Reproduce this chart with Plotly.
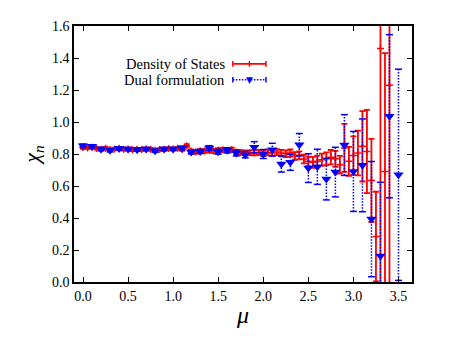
"""
Susceptibility chi_n vs chemical potential mu: Density of States vs Dual formulation.
"""

import plotly.graph_objects as go

# Density of States (red), step 0.05
dos_mu = [round(0.05 * i, 2) for i in range(69)]
dos_chi = [
    0.840, 0.838, 0.842, 0.835, 0.830, 0.836, 0.828, 0.832, 0.836, 0.830,
    0.832, 0.826, 0.830, 0.828, 0.832, 0.830, 0.824, 0.828, 0.830, 0.834,
    0.832, 0.836, 0.828, 0.852, 0.818, 0.812, 0.820, 0.818, 0.822, 0.818,
    0.824, 0.826, 0.824, 0.826, 0.812, 0.810, 0.806, 0.808, 0.808, 0.810,
    0.804, 0.810, 0.806, 0.812, 0.806, 0.802, 0.806, 0.788, 0.792, 0.769,
    0.754, 0.748, 0.754, 0.764, 0.770, 0.780, 0.770, 0.733, 0.838, 0.754,
    0.790, 0.806, 0.848, 0.816, 0.635, 0.284, 1.460, 0.690, 1.230,
]
dos_err = [
    0.008, 0.008, 0.008, 0.008, 0.008, 0.008, 0.008, 0.008, 0.008, 0.008,
    0.008, 0.008, 0.008, 0.008, 0.008, 0.008, 0.008, 0.008, 0.008, 0.008,
    0.008, 0.008, 0.009, 0.009, 0.010, 0.010, 0.010, 0.011, 0.011, 0.012,
    0.012, 0.012, 0.013, 0.013, 0.014, 0.014, 0.015, 0.015, 0.016, 0.016,
    0.017, 0.018, 0.018, 0.019, 0.020, 0.021, 0.022, 0.024, 0.025, 0.027,
    0.030, 0.034, 0.036, 0.038, 0.040, 0.045, 0.050, 0.055, 0.150, 0.090,
    0.120, 0.140, 0.220, 0.260, 0.260, 0.280, 1.800, 0.740, 1.600,
]

# Dual formulation (blue), step 0.1
dual_mu = [round(0.1 * i, 1) for i in range(36)]
dual_chi = [
    0.852, 0.848, 0.831, 0.823, 0.834, 0.831, 0.827, 0.831, 0.820, 0.831,
    0.831, 0.838, 0.812, 0.816, 0.838, 0.814, 0.823, 0.806, 0.796, 0.842,
    0.800, 0.827, 0.737, 0.748, 0.858, 0.712, 0.720, 0.643, 0.687, 0.856,
    0.691, 0.729, 0.393, 0.163, 1.036, 0.670,
]
dual_err = [
    0.010, 0.010, 0.010, 0.010, 0.010, 0.010, 0.010, 0.010, 0.010, 0.010,
    0.010, 0.011, 0.012, 0.013, 0.014, 0.015, 0.016, 0.018, 0.020, 0.035,
    0.028, 0.040, 0.050, 0.050, 0.070, 0.090, 0.110, 0.130, 0.155, 0.190,
    0.250, 0.290, 0.360, 0.460, 0.510, 0.660,
]

x_ticks = [0.0, 0.5, 1.0, 1.5, 2.0, 2.5, 3.0, 3.5]
y_ticks = [0.0, 0.2, 0.4, 0.6, 0.8, 1.0, 1.2, 1.4, 1.6]

RED = "#ff0000"
BLUE = "#0000ff"
FONT = "Liberation Serif"
FINE_DOT = "1.5px,1.5px"

fig = go.Figure()

fig.add_trace(go.Scatter(
    x=dos_mu, y=dos_chi, mode="markers", name="Density of States",
    marker=dict(symbol="cross-thin", size=5, line=dict(color=RED, width=1.5)),
    error_y=dict(type="data", array=dos_err, color=RED, thickness=1.8, width=3),
))

# Dotted error bars for the dual series, built from the data arrays
seg_x, seg_y, cap_x, cap_y = [], [], [], []
for m, c, e in zip(dual_mu, dual_chi, dual_err):
    seg_x += [m, m, None]
    seg_y += [c - e, c + e, None]
    cap_x += [m, m]
    cap_y += [c - e, c + e]

fig.add_trace(go.Scatter(
    x=seg_x, y=seg_y, mode="lines", showlegend=False, hoverinfo="skip",
    line=dict(color=BLUE, width=1.5, dash=FINE_DOT),
))
fig.add_trace(go.Scatter(
    x=cap_x, y=cap_y, mode="markers", showlegend=False, hoverinfo="skip",
    marker=dict(symbol="line-ew", size=5, line=dict(color=BLUE, width=1.5)),
    cliponaxis=True,
))
fig.add_trace(go.Scatter(
    x=dual_mu, y=dual_chi, mode="markers", name="Dual formulation",
    marker=dict(symbol="triangle-down", size=9, color=BLUE),
))

# gnuplot-style key: text on the left, sample on the right
key_text_x = 0.453
key_x0, key_x1 = 0.470, 0.568
key_rows = [(0.852, "Density of States", RED, "solid"), (0.790, "Dual formulation", BLUE, FINE_DOT)]
for ky, label, col, dash in key_rows:
    fig.add_annotation(
        x=key_text_x, y=ky, xref="paper", yref="paper", text=label, showarrow=False,
        xanchor="right", yanchor="middle", font=dict(family=FONT, size=14.5, color="black"),
    )
    fig.add_shape(type="line", xref="paper", yref="paper", x0=key_x0, x1=key_x1, y0=ky, y1=ky,
                  line=dict(color=col, width=1.8 if dash == "solid" else 1.5, dash=dash))
    for kx in (key_x0, key_x1):
        fig.add_shape(type="line", xref="paper", yref="paper", x0=kx, x1=kx,
                      y0=ky - 0.011, y1=ky + 0.011, line=dict(color=col, width=1.5))
fig.add_shape(type="line", xref="paper", yref="paper", x0=0.519, x1=0.519,
              y0=0.852 - 0.011, y1=0.852 + 0.011, line=dict(color=RED, width=1.5))
fig.add_annotation(
    x=0.519, y=0.790, xref="paper", yref="paper", text="▼", showarrow=False,
    xanchor="center", yanchor="middle", font=dict(family="DejaVu Sans", size=9, color=BLUE),
)

axis_common = dict(
    showline=True, linecolor="black", linewidth=1.5, mirror="ticks",
    ticks="inside", ticklen=5, tickwidth=1, tickcolor="black",
    showgrid=False, zeroline=False, tickformat=".1f",
    tickfont=dict(family=FONT, size=14, color="black"),
)

fig.update_xaxes(
    range=[-0.1, 3.65], tickvals=x_ticks,
    title=dict(text="<i>μ</i>", font=dict(family=FONT, size=24, color="black"), standoff=4),
    **axis_common,
)
fig.update_yaxes(
    range=[0.0, 1.6], tickvals=y_ticks,
    title=dict(text="<i>χ</i><sub><i>n</i></sub>", font=dict(family=FONT, size=22, color="black"), standoff=6),
    **axis_common,
)

# page body adds an 8px offset, so the figure is sized to sit inside the window
fig.update_layout(
    width=443, height=330,
    paper_bgcolor="white", plot_bgcolor="white",
    showlegend=False,
    margin=dict(l=66, r=39, t=18, b=56),
)

fig.write_html("out.html")
